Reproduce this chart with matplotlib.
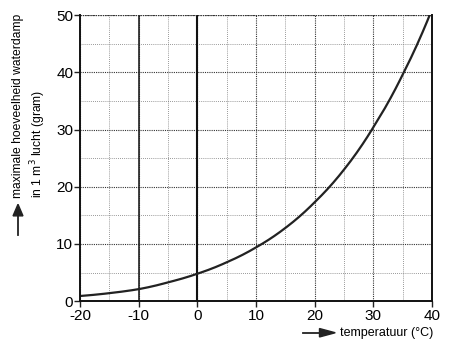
import numpy as np
import matplotlib.pyplot as plt

plt.rcParams['font.family'] = ['Liberation Sans', 'DejaVu Sans']
plt.rcParams['axes.unicode_minus'] = False

# maximale hoeveelheid waterdamp (gram per m3) bij temperatuur (graden C)
temperatuur = [-20, -15, -10, -5, 0, 5, 10, 15, 20, 25, 30, 35, 40]
waterdamp = [0.9, 1.4, 2.1, 3.3, 4.8, 6.8, 9.4, 12.8, 17.3, 23.0, 30.4, 39.6, 51.0]

x_ticks = [-20, -10, 0, 10, 20, 30, 40]
y_ticks = [0, 10, 20, 30, 40, 50]

fig = plt.figure(figsize=(4.5, 3.51), dpi=100)
ax = fig.add_axes([0.178, 0.142, 0.782, 0.815])

# grid: major dotted, minor lighter dotted
ax.set_xticks(np.arange(-15, 40, 10), minor=True)
ax.set_yticks(np.arange(5, 50, 10), minor=True)
ax.grid(True, which='major', color='#333333', linestyle=(0, (1, 1)), linewidth=0.8)
ax.grid(True, which='minor', color='#777777', linestyle=(0, (1, 1.5)), linewidth=0.6)
ax.axvline(-10, color='#222222', linewidth=1.2)
ax.axvline(0, color='#111111', linewidth=1.5)
ax.axhline(50, color='#333333', linestyle=(0, (1, 1)), linewidth=0.9)

# smooth curve through the read points
xs = np.linspace(-20, 40, 300)
ys = np.exp(np.interp(xs, temperatuur, np.log(waterdamp)))
ax.plot(xs, ys, color='#222222', linewidth=1.6)

ax.set_xlim(-20, 40)
ax.set_ylim(0, 50)
ax.set_xticks(x_ticks)
ax.set_yticks(y_ticks)
ax.tick_params(axis='both', which='major', labelsize=11, length=4, width=1, color='#222222')
ax.tick_params(axis='both', which='minor', length=0)
ax.tick_params(axis='x', pad=2)
ax.tick_params(axis='y', pad=1)
ax.spines['top'].set_visible(False)
for s in ['left', 'bottom', 'right']:
    ax.spines[s].set_linewidth(1.4)
    ax.spines[s].set_color('#111111')

# y-axis label with arrow
fig.text(0.04, 0.436, 'maximale hoeveelheid waterdamp', rotation=90,
         ha='center', va='bottom', fontsize=8.7)
fig.text(0.085, 0.436, 'in 1 m$^3$ lucht (gram)', rotation=90,
         ha='center', va='bottom', fontsize=8.7)
fig.add_artist(plt.Line2D([0.04, 0.04], [0.33, 0.39], color='#222222', lw=1.3))
fig.patches.append(plt.Polygon([[0.029, 0.385], [0.051, 0.385], [0.04, 0.418]],
                               closed=True, color='#222222', transform=fig.transFigure))

# x-axis label with arrow
fig.add_artist(plt.Line2D([0.673, 0.72], [0.052, 0.052], color='#222222', lw=1.3))
fig.patches.append(plt.Polygon([[0.71, 0.04], [0.71, 0.064], [0.745, 0.052]],
                               closed=True, color='#222222', transform=fig.transFigure))
fig.text(0.755, 0.052, 'temperatuur (°C)', ha='left', va='center', fontsize=9)

fig.savefig('out.png', dpi=100)
